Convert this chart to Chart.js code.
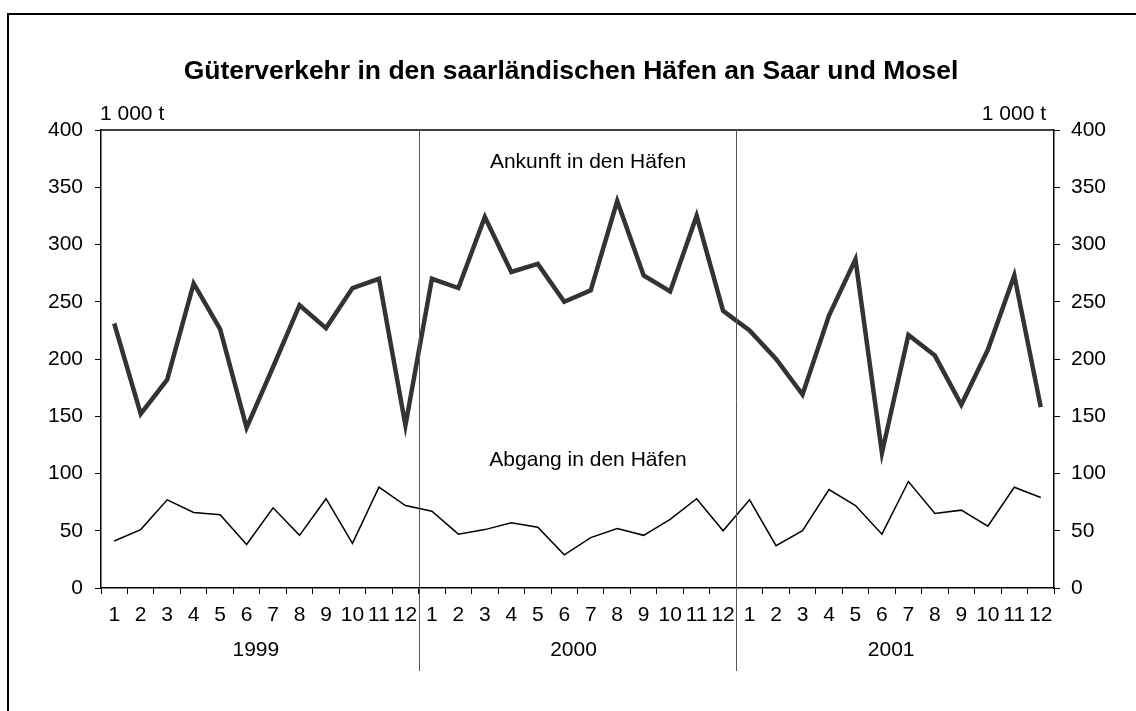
<!DOCTYPE html>
<html>
<head>
<meta charset="utf-8">
<script src="https://cdn.jsdelivr.net/npm/chart.js@4/dist/chart.umd.min.js"></script>
<style>
  html, body { margin: 0; padding: 0; background: #fff; }
  #wrap { width: 1136px; height: 711px; }
</style>
</head>
<body>
<div id="wrap"><canvas id="chart" width="1136" height="711"></canvas></div>
<script>
// months of three years
const years = ["1999", "2000", "2001"];
const months = ["1", "2", "3", "4", "5", "6", "7", "8", "9", "10", "11", "12"];
const yTicks = [0, 50, 100, 150, 200, 250, 300, 350, 400];

// 1 000 t
const ankunft = [
  231, 152, 182, 266, 226, 140, 193, 247, 227, 262, 270, 142,
  270, 262, 324, 276, 283, 250, 260, 338, 273, 259, 325, 242,
  225, 200, 169, 238, 287, 118, 221, 203, 160, 208, 273, 158
];
const abgang = [
  41, 51, 77, 66, 64, 38, 70, 46, 78, 39, 88, 72,
  67, 47, 51, 57, 53, 29, 44, 52, 46, 60, 78, 50,
  77, 37, 50, 86, 72, 47, 93, 65, 68, 54, 88, 79
];

const labels = [];
years.forEach(y => months.forEach(m => labels.push(m)));

const FONT = "'Liberation Sans', Arial, sans-serif";

// Frame, title, unit labels, series names, year separators
const decorations = {
  id: "decorations",
  afterDraw(chart) {
    const ctx = chart.ctx;
    const area = chart.chartArea;
    const x = chart.scales.x;
    ctx.save();

    // outer frame (only top and left visible)
    ctx.strokeStyle = "#000";
    ctx.lineWidth = 2;
    ctx.beginPath();
    ctx.moveTo(8, 711);
    ctx.lineTo(8, 14);
    ctx.lineTo(1136, 14);
    ctx.stroke();

    // top edge of plot box
    ctx.lineWidth = 1.5;
    ctx.beginPath();
    ctx.moveTo(area.left, area.top);
    ctx.lineTo(area.right, area.top);
    ctx.stroke();

    // year separators
    ctx.strokeStyle = "#555";
    ctx.lineWidth = 1;
    for (let i = 1; i < years.length; i++) {
      const idx = i * 12;
      const px = Math.round((x.getPixelForValue(idx - 1) + x.getPixelForValue(idx)) / 2) + 0.5;
      ctx.beginPath();
      ctx.moveTo(px, area.top);
      ctx.lineTo(px, 671);
      ctx.stroke();
    }

    ctx.fillStyle = "#000";
    ctx.textBaseline = "middle";

    // title
    ctx.font = "bold 26.5px " + FONT;
    ctx.textAlign = "center";
    ctx.fillText("Güterverkehr in den saarländischen Häfen an Saar und Mosel", 571, 72);

    // unit labels
    ctx.font = "21px " + FONT;
    ctx.textAlign = "left";
    ctx.fillText("1 000 t", 100, 114);
    ctx.textAlign = "right";
    ctx.fillText("1 000 t", 1046, 114);

    // series names
    ctx.textAlign = "center";
    ctx.fillText("Ankunft in den Häfen", 588, 162);
    ctx.fillText("Abgang in den Häfen", 588, 460);

    // year labels
    years.forEach((yr, i) => {
      const a = x.getPixelForValue(i * 12);
      const b = x.getPixelForValue(i * 12 + 11);
      ctx.fillText(yr, (a + b) / 2 - 4, 650);
    });

    ctx.restore();
  }
};

const yAxis = (position, width, pad) => ({
  position: position,
  min: 0,
  max: 400,
  afterFit: s => { s.width = width; },
  afterBuildTicks: s => { s.ticks = yTicks.map(v => ({ value: v })); },
  border: { display: true, color: "#000", width: 1.5 },
  grid: { drawOnChartArea: false, drawTicks: true, tickLength: 6, color: "#000", lineWidth: 1 },
  ticks: { color: "#000", padding: pad, font: { family: FONT, size: 21 } }
});

new Chart(document.getElementById("chart"), {
  type: "line",
  data: {
    labels: labels,
    datasets: [
      {
        label: "Ankunft in den Häfen",
        data: ankunft,
        borderColor: "#333",
        borderWidth: 4.5,
        pointRadius: 0,
        tension: 0,
        yAxisID: "y"
      },
      {
        label: "Abgang in den Häfen",
        data: abgang,
        borderColor: "#000",
        borderWidth: 1.5,
        pointRadius: 0,
        tension: 0,
        yAxisID: "y"
      }
    ]
  },
  options: {
    responsive: false,
    animation: false,
    devicePixelRatio: 1,
    layout: { padding: { left: 0, right: 0, top: 130, bottom: 83 } },
    plugins: {
      legend: { display: false },
      tooltip: { enabled: false },
      title: { display: false }
    },
    scales: {
      x: {
        offset: true,
        afterFit: s => { s.height = 40; },
        border: { display: true, color: "#000", width: 1.5 },
        grid: { offset: true, drawOnChartArea: false, drawTicks: true, tickLength: 6, color: "#000", lineWidth: 1 },
        ticks: { color: "#000", padding: 9, maxRotation: 0, autoSkip: false, font: { family: FONT, size: 21 } }
      },
      y: yAxis("left", 101, 12),
      y2: yAxis("right", 82, 11)
    }
  },
  plugins: [decorations]
});
</script>
</body>
</html>
